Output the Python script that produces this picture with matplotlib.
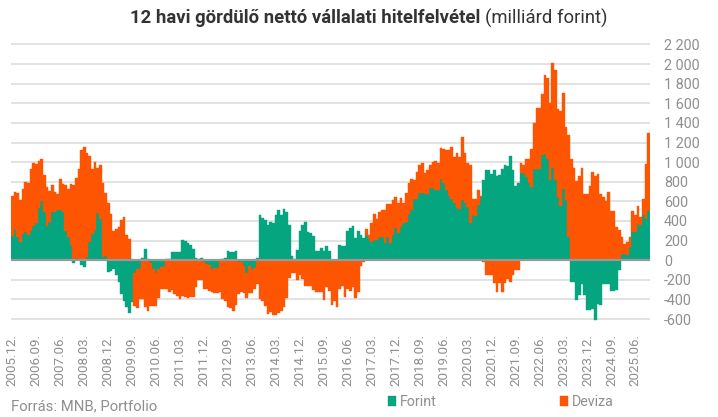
import numpy as np
import pandas as pd
import matplotlib
matplotlib.use("Agg")
import matplotlib.pyplot as plt

plt.rcParams['font.family'] = ['Roboto', 'DejaVu Sans']

# Havi adatok 2005.12-tol (milliard forint), leolvasva az abrarol
honapok = pd.date_range('2005-12-01', periods=240, freq='MS')

forint = [
    245, 317, 235, 188, 266, 290, 256, 293, 348, 375, 532, 604, 495, 351, 389, 495,
    495, 515, 515, 495, 297, 235, 153, -27, 24, 5, -51, -68, 31, 184, 266, 310,
    477, 419, 30, 41, -119, -109, -89, -150, -222, -344, -416, -477, -539, -430, -135, -94,
    -94, 20, 118, 15, -30, -94, -135, -94, -67, -67, 10, 10, 86, 79, 86, 86,
    206, 195, 178, 154, 113, 27, 14, 27, -17, -34, -51, -96, -75, -75, -7, 17,
    24, 96, 86, 86, 96, -17, -17, -62, -130, -62, -103, -75, 27, 460, 429, 415,
    360, 388, 384, 463, 514, 463, 521, 494, 360, 41, 17, 103, 302, 360, 388, 285,
    274, 247, 96, 96, 120, 96, 144, 96, -17, 7, 0, 154, 144, 144, 302, 326,
    353, 223, 298, 260, 231, 252, 218, 184, 207, 207, 241, 241, 173, 241, 180, 258,
    330, 275, 343, 377, 394, 469, 513, 622, 622, 683, 683, 677, 677, 738, 738, 717,
    717, 830, 785, 717, 656, 629, 581, 530, 520, 615, 581, 541, 377, 462, 452, 564,
    649, 819, 915, 915, 881, 921, 860, 870, 932, 972, 962, 1064, 921, 758, 792, 891,
    891, 850, 789, 748, 925, 925, 935, 1071, 1088, 1037, 816, 945, 816, 646, 551, 721,
    612, 238, -221, -221, -408, -357, -238, -357, -510, -510, -493, -605, -442, -459, -238, -238,
    -238, -313, -313, -299, -102, 61, 61, 51, 136, 289, 289, 374, 357, 459, 425, 503,
]

deviza = [
    410, 379, 454, 426, 457, 505, 532, 638, 644, 610, 481, 429, 375, 396, 317, 272,
    201, 160, 314, 282, 470, 491, 624, 767, 815, 926, 1125, 1156, 1064, 880, 665, 693,
    464, 553, 758, 644, 583, 470, 297, 317, 338, 409, 440, 256, 215, 10, -337, -398,
    -300, -394, -480, -522, -442, -371, -330, -294, -230, -230, -297, -320, -300, -343, -360, -394,
    -360, -377, -385, -377, -377, -274, -206, -206, -275, -258, -258, -230, -260, -260, -320, -394,
    -411, -473, -487, -521, -453, -326, -309, -273, -254, -268, -232, -217, -247, -400, -420, -463,
    -545, -532, -560, -560, -540, -521, -473, -384, -178, -130, -130, -199, -154, -192, -268, -268,
    -268, -302, -326, -320, -326, -405, -274, -309, -436, -411, -473, -292, -268, -377, -292, -316,
    -274, -384, -326, -58, -14, 68, 40, 193, 266, 211, 255, 266, 340, 334, 395, 357,
    319, 313, 289, 204, 296, 323, 320, 197, 282, 289, 313, 217, 244, 234, 265, 296,
    272, 319, 351, 408, 469, 527, 470, 568, 531, 646, 517, 455, 595, 167, 177, 153,
    10, -14, -150, -150, -150, -235, -320, -235, -320, -235, -194, -218, -150, -99, -99, 105,
    78, 187, 248, 384, 469, 622, 612, 622, 799, 816, 789, 1061, 1122, 891, 972, 979,
    748, 1037, 1037, 945, 809, 857, 945, 673, 673, 755, 901, 857, 877, 673, 646, 605,
    697, 503, 503, 340, 313, 177, 109, 136, 102, 211, 170, 177, 85, 170, 554, 789,
]

y_ticks = list(range(-600, 2201, 200))

zold = '#04a57f'
narancs = '#fe5502'
szurke = '#8f8f8f'

f = np.array(forint, dtype=float)
d = np.array(deviza, dtype=float)
x = np.arange(len(f))

# halmozas: pozitiv es negativ reszek kulon
d_alj = np.where(d >= 0, np.maximum(f, 0), np.minimum(f, 0))

fig = plt.figure(figsize=(7.18, 4.17), dpi=100)
ax = fig.add_axes([11 / 718, 1 - 321 / 417, 639 / 718, 279 / 417])

b1 = ax.bar(x, f, width=1.0, color=zold, edgecolor=zold, linewidth=0.3, label='Forint', zorder=2)
b2 = ax.bar(x, d, width=1.0, bottom=d_alj, color=narancs, edgecolor=narancs, linewidth=0.3,
            label='Deviza', zorder=2)
ax.axhline(0, color='#999999', linewidth=1.6, zorder=3)

ax.set_xlim(-0.5, len(f) - 0.5)
ax.set_ylim(-620, 2225)
ax.set_yticks(y_ticks)
ax.set_yticklabels([f'{v:,}'.replace(',', ' ') for v in y_ticks])
ax.yaxis.tick_right()
ax.grid(axis='y', color='#dddddd', linewidth=1.2, zorder=0)
ax.set_axisbelow(True)

tick_idx = x[::9]
ax.set_xticks(tick_idx)
ax.set_xticklabels([honapok[i].strftime('%Y.%m.') for i in tick_idx], rotation=90)

ax.tick_params(axis='both', length=0, colors=szurke)
ax.tick_params(axis='y', pad=10, labelsize=10.4)
ax.tick_params(axis='x', pad=9, labelsize=9.6)
for s in ax.spines.values():
    s.set_visible(False)

# cim: felkover es normal resz
fig.canvas.draw()
r = fig.canvas.get_renderer()
t1 = fig.text(130 / 718, 1 - 18 / 417, '12 havi gördülő nettó vállalati hitelfelvétel',
              fontsize=13.3, fontweight='bold', color='#333333', va='center', ha='left')
bb = t1.get_window_extent(renderer=r)
fig.text((bb.x1 + 5) / (7.18 * 100), 1 - 18 / 417, '(milliárd forint)',
         fontsize=13.3, color='#333333', va='center', ha='left')

fig.text(11 / 718, 1 - 406 / 417, 'Forrás: MNB, Portfolio', fontsize=10.7, color=szurke,
         va='center', ha='left')

fig.legend(handles=[b1, b2], labels=['Forint', 'Deviza'], loc='center left',
           bbox_to_anchor=(388 / 718, 1 - 402 / 417), ncol=2, frameon=False,
           handlelength=0.55, handleheight=0.75, handletextpad=0.3, columnspacing=8.6,
           fontsize=10.3, labelcolor=szurke, borderaxespad=0, borderpad=0)

fig.savefig('out.png', dpi=100)
